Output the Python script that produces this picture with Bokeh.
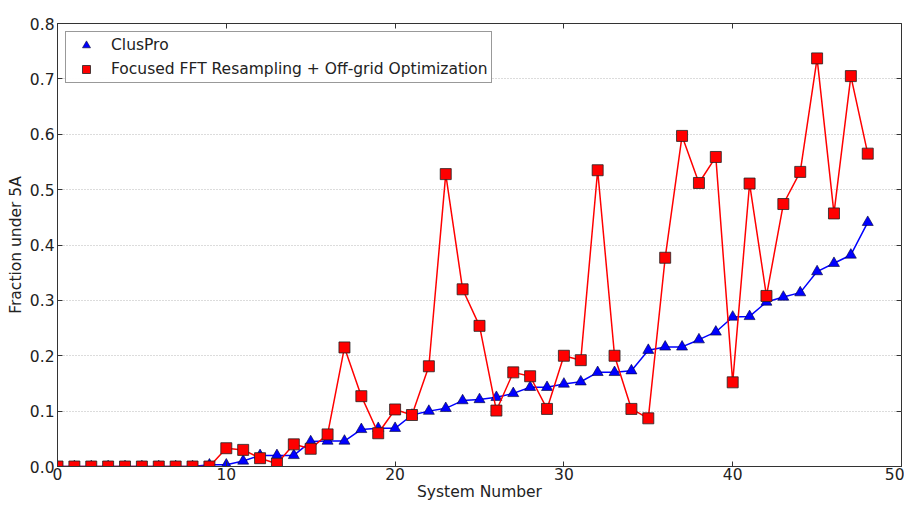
from bokeh.plotting import figure
from bokeh.models import Range1d, LinearAxis, FixedTicker, PrintfTickFormatter, Legend, LegendItem
from bokeh.embed import file_html
from bokeh.resources import INLINE

system = list(range(49))
cluspro = [0, 0, 0, 0, 0, 0, 0, 0, 0, 0.003,
           0.003, 0.010, 0.020, 0.020, 0.020, 0.045, 0.046, 0.046, 0.067, 0.069,
           0.069, 0.093, 0.100, 0.105, 0.119, 0.121, 0.125, 0.132, 0.143, 0.143,
           0.149, 0.153, 0.170, 0.170, 0.173, 0.210, 0.216, 0.216, 0.229, 0.243,
           0.270, 0.271, 0.297, 0.306, 0.314, 0.352, 0.367, 0.382, 0.441]
focused = [0, 0, 0, 0, 0, 0, 0, 0, 0, 0,
           0.033, 0.030, 0.015, 0.005, 0.040, 0.032, 0.058, 0.215, 0.127, 0.060,
           0.103, 0.093, 0.181, 0.528, 0.320, 0.254, 0.101, 0.170, 0.163, 0.104,
           0.200, 0.192, 0.535, 0.200, 0.104, 0.087, 0.377, 0.597, 0.512, 0.559,
           0.152, 0.511, 0.308, 0.474, 0.532, 0.737, 0.457, 0.705, 0.565]
x_ticks = [0, 10, 20, 30, 40, 50]
y_ticks = [0.0, 0.1, 0.2, 0.3, 0.4, 0.5, 0.6, 0.7, 0.8]
labels = ["ClusPro", "Focused FFT Resampling + Off-grid Optimization"]

FONT = "DejaVu Sans"
FS = "15.5px"

p = figure(width=904, height=503, output_backend="svg", toolbar_location=None,
           x_range=Range1d(0, 50), y_range=Range1d(0, 0.8),
           min_border_left=57, min_border_top=23, min_border_right=3, min_border_bottom=35,
           x_axis_label="System Number", y_axis_label="Fraction under 5A")
p.background_fill_color = "white"
p.border_fill_color = "white"
p.outline_line_color = "#333333"
p.outline_line_width = 1

for ax in [p.xaxis[0], p.yaxis[0]]:
    ax.axis_line_color = "#333333"
    ax.major_tick_in = 5
    ax.major_tick_out = 0
    ax.minor_tick_line_color = None
    ax.major_tick_line_color = "#333333"
    ax.major_label_text_font = FONT
    ax.major_label_text_font_size = FS
    ax.major_label_text_color = "#222222"
    ax.axis_label_text_font = FONT
    ax.axis_label_text_font_size = FS
    ax.axis_label_text_font_style = "normal"
    ax.axis_label_text_color = "#222222"
    ax.major_label_standoff = 1
    ax.axis_label_standoff = 0

p.xaxis[0].ticker = FixedTicker(ticks=x_ticks)
p.yaxis[0].ticker = FixedTicker(ticks=y_ticks)
p.yaxis[0].formatter = PrintfTickFormatter(format="%.1f")
p.yaxis[0].major_label_standoff = 3
p.yaxis[0].axis_label_standoff = 2

top_ax = LinearAxis(ticker=FixedTicker(ticks=x_ticks), major_tick_in=5, major_tick_out=0,
                    minor_tick_line_color=None, major_tick_line_color="#333333",
                    major_label_text_color=None, major_label_text_font_size="0px",
                    axis_line_color=None, major_label_standoff=0)
right_ax = LinearAxis(ticker=FixedTicker(ticks=y_ticks), major_tick_in=5, major_tick_out=0,
                      minor_tick_line_color=None, major_tick_line_color="#333333",
                      major_label_text_color=None, major_label_text_font_size="0px",
                      axis_line_color=None, major_label_standoff=0)
p.add_layout(top_ax, "above")
p.add_layout(right_ax, "right")

p.xgrid.visible = False
p.ygrid.ticker = FixedTicker(ticks=y_ticks)
p.ygrid.grid_line_color = "#b8b8b8"
p.ygrid.grid_line_dash = "1 2"
p.ygrid.grid_line_width = 1

p.line(system, cluspro, line_color="#0000ff", line_width=1.5)
rb = p.scatter(system, cluspro, marker="triangle", size=11, fill_color="#0000ff",
               line_color="#000033", line_width=0.6)
p.line(system, focused, line_color="#ff0000", line_width=1.5)
rr = p.scatter(system, focused, marker="square", size=11, fill_color="#ff0000",
               line_color="#222222", line_width=0.8)

legend = Legend(items=[LegendItem(label=labels[0], renderers=[rb]),
                       LegendItem(label=labels[1], renderers=[rr])],
                location="top_left")
legend.label_text_font = FONT
legend.label_text_font_size = FS
legend.label_text_color = "#222222"
legend.border_line_color = "#333333"
legend.border_line_width = 1
legend.background_fill_color = "white"
legend.margin = 8
legend.padding = 3
legend.spacing = 4
legend.label_height = 20
legend.glyph_height = 20
legend.glyph_width = 34
legend.label_standoff = 8
p.add_layout(legend)

open("out.html", "w").write(file_html(p, INLINE))
